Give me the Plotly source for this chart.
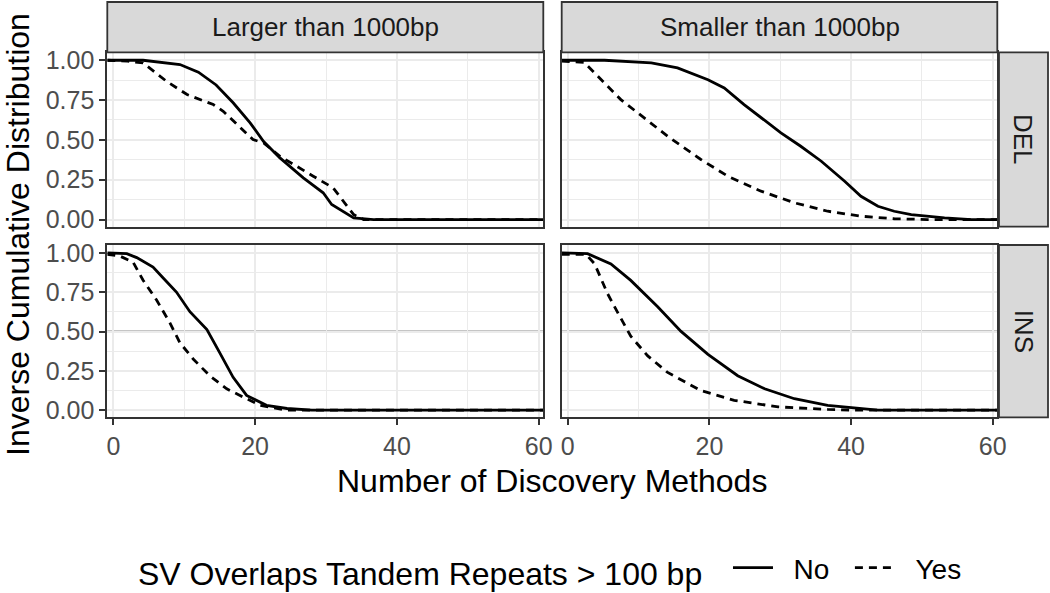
import plotly.graph_objects as go

# ---------------- data ----------------
col_labels = ["Larger than 1000bp", "Smaller than 1000bp"]
row_labels = ["DEL", "INS"]
series_names = ["No", "Yes"]
legend_title = "SV Overlaps Tandem Repeats > 100 bp"
x_title = "Number of Discovery Methods"
y_title = "Inverse Cumulative Distribution"
x_ticks = [0, 20, 40, 60]
y_ticks = [0.0, 0.25, 0.5, 0.75, 1.0]
ref_level = 0.5

del_large_x_no = [-0.85, 4.2, 9.4, 12.0, 14.5, 16.9, 19.3, 21.2, 23.5, 26.8, 29.6, 30.8, 33.9, 36.7, 60.65]
del_large_y_no = [1.0, 1.0, 0.973, 0.925, 0.845, 0.733, 0.607, 0.49, 0.387, 0.262, 0.168, 0.094, 0.01, 0.0, 0.0]
del_large_x_yes = [-0.85, 2.0, 4.2, 7.5, 10.4, 14.1, 15.5, 17.9, 19.7, 21.2, 23.5, 28.2, 31.0, 33.9, 35.3, 60.65]
del_large_y_yes = [1.0, 0.995, 0.983, 0.868, 0.785, 0.722, 0.68, 0.576, 0.502, 0.481, 0.397, 0.272, 0.199, 0.031, 0.0, 0.0]

del_small_x_no = [-0.85, 5.2, 11.8, 15.5, 19.8, 22.1, 24.9, 27.3, 30.1, 32.9, 35.8, 39.1, 41.4, 43.8, 46.1, 48.5, 53.2, 57.0, 60.65]
del_small_y_no = [1.0, 1.0, 0.983, 0.952, 0.878, 0.826, 0.722, 0.638, 0.544, 0.46, 0.366, 0.24, 0.146, 0.083, 0.052, 0.031, 0.011, 0.0, 0.0]
del_small_x_yes = [-0.85, 2.3, 3.8, 7.5, 10.8, 14.1, 18.8, 22.6, 27.3, 32.0, 36.7, 41.4, 46.1, 50.8, 60.65]
del_small_y_yes = [0.995, 0.987, 0.92, 0.753, 0.638, 0.523, 0.377, 0.272, 0.178, 0.105, 0.052, 0.021, 0.005, 0.0, 0.0]

ins_large_x_no = [-0.85, 1.9, 3.3, 5.6, 7.1, 8.9, 10.8, 13.2, 15.0, 16.9, 18.8, 21.6, 24.5, 28.0, 60.65]
ins_large_y_no = [1.0, 0.995, 0.97, 0.91, 0.837, 0.751, 0.626, 0.512, 0.366, 0.209, 0.094, 0.031, 0.011, 0.0, 0.0]
ins_large_x_yes = [-0.85, 0.9, 2.8, 4.2, 6.1, 8.0, 9.4, 11.3, 13.6, 16.0, 18.3, 20.7, 24.5, 60.65]
ins_large_y_yes = [0.99, 0.98, 0.94, 0.826, 0.70, 0.554, 0.428, 0.324, 0.219, 0.136, 0.084, 0.031, 0.0, 0.0]

ins_small_x_no = [-0.85, 2.8, 6.1, 8.9, 12.7, 16.0, 19.8, 24.0, 27.8, 32.0, 36.7, 40.0, 43.8, 60.65]
ins_small_y_no = [1.0, 0.995, 0.93, 0.825, 0.658, 0.501, 0.355, 0.219, 0.136, 0.073, 0.031, 0.017, 0.0, 0.0]
ins_small_x_yes = [-0.85, 2.6, 3.8, 5.6, 7.1, 8.9, 11.3, 14.1, 18.8, 23.5, 29.7, 36.7, 41.0, 60.65]
ins_small_y_yes = [0.99, 0.99, 0.93, 0.743, 0.617, 0.47, 0.345, 0.24, 0.125, 0.063, 0.021, 0.005, 0.0, 0.0]

panels = {
    (0, 0): [(del_large_x_no, del_large_y_no), (del_large_x_yes, del_large_y_yes)],
    (0, 1): [(del_small_x_no, del_small_y_no), (del_small_x_yes, del_small_y_yes)],
    (1, 0): [(ins_large_x_no, ins_large_y_no), (ins_large_x_yes, ins_large_y_yes)],
    (1, 1): [(ins_small_x_no, ins_small_y_no), (ins_small_x_yes, ins_small_y_yes)],
}

# ---------------- layout geometry ----------------
W, H = 1050, 593
FONT = "Liberation Sans, Arial, sans-serif"
col_px = [(107.3, 543.3), (561.7, 997.3)]
row_px = [(52.3, 226.7), (245.0, 417.3)]
x_dom = [[a / W, b / W] for a, b in col_px]
y_dom = [[1 - b / H, 1 - a / H] for a, b in row_px]
x_range = [-0.85, 60.65]
y_range = [-0.045, 1.05]

dash_styles = ["solid", "8px,6px"]
NB = "\u00a0"

fig = go.Figure()
layout = dict(
    width=W, height=H,
    margin=dict(l=0, r=0, t=0, b=0, autoexpand=False),
    paper_bgcolor="white", plot_bgcolor="white",
    font=dict(family=FONT, color="#000000"),
    showlegend=True,
)

shapes = []
annotations = []
idx = 0
for r in range(2):
    for c in range(2):
        idx += 1
        xa = "xaxis" if idx == 1 else f"xaxis{idx}"
        ya = "yaxis" if idx == 1 else f"yaxis{idx}"
        xr = "x" if idx == 1 else f"x{idx}"
        yr = "y" if idx == 1 else f"y{idx}"
        layout[xa] = dict(
            domain=x_dom[c], anchor=yr, range=x_range,
            tickmode="array", tickvals=x_ticks,
            showticklabels=(r == 1), ticks="outside" if r == 1 else "",
            ticklen=6, tickwidth=2, tickcolor="#333333",
            tickfont=dict(size=25, color="#4D4D4D", family=FONT),
            showgrid=True, gridcolor="#EBEBEB", gridwidth=2,
            minor=dict(dtick=10, tick0=0, showgrid=True, gridcolor="#EBEBEB", gridwidth=1, ticks=""),
            showline=True, linecolor="#333333", linewidth=1.8, mirror=True,
            zeroline=False, fixedrange=True, automargin=False,
        )
        layout[ya] = dict(
            domain=y_dom[r], anchor=xr, range=y_range,
            tickmode="array", tickvals=y_ticks, tickformat=".2f",
            showticklabels=(c == 0), ticks="outside" if c == 0 else "",
            ticklen=6, tickwidth=2, tickcolor="#333333",
            tickfont=dict(size=25, color="#4D4D4D", family=FONT),
            showgrid=True, gridcolor="#EBEBEB", gridwidth=2,
            minor=dict(dtick=0.125, tick0=0, showgrid=True, gridcolor="#EBEBEB", gridwidth=1, ticks=""),
            showline=True, linecolor="#333333", linewidth=1.8, mirror=True,
            zeroline=False, fixedrange=True, automargin=False,
        )
        shapes.append(dict(type="line", xref=f"{xr} domain", yref=yr, x0=0, x1=1,
                           y0=ref_level, y1=ref_level, line=dict(color="#8C8C8C", width=2), layer="below"))
        for k, (xs, ys) in enumerate(panels[(r, c)]):
            fig.add_trace(go.Scatter(
                x=xs, y=ys, mode="lines", xaxis=xr, yaxis=yr,
                name=NB * 2 + series_names[k] + NB * 2, legendgroup=series_names[k],
                showlegend=(idx == 1),
                line=dict(color="black", width=2.8, dash=dash_styles[k]),
                hoverinfo="skip",
            ))

# strips
for c in range(2):
    x0, x1 = col_px[c]
    shapes.append(dict(type="rect", xref="paper", yref="paper",
                       x0=x0 / W, x1=x1 / W, y0=1 - 52.3 / H, y1=1 - 2 / H,
                       fillcolor="#D9D9D9", line=dict(color="#333333", width=1.8), layer="above"))
    annotations.append(dict(text=col_labels[c], xref="paper", yref="paper",
                            x=(x0 + x1) / 2 / W, y=1 - 27 / H, showarrow=False,
                            xanchor="center", yanchor="middle",
                            font=dict(size=26, color="#1A1A1A", family=FONT)))
for r in range(2):
    y0, y1 = row_px[r]
    shapes.append(dict(type="rect", xref="paper", yref="paper",
                       x0=999 / W, x1=1048 / W, y0=1 - y1 / H, y1=1 - y0 / H,
                       fillcolor="#D9D9D9", line=dict(color="#333333", width=1.8), layer="above"))
    annotations.append(dict(text=row_labels[r], xref="paper", yref="paper",
                            x=1023.5 / W, y=1 - (y0 + y1) / 2 / H, showarrow=False,
                            textangle=90, xanchor="center", yanchor="middle",
                            font=dict(size=26, color="#1A1A1A", family=FONT)))

# axis titles
annotations.append(dict(text=x_title, xref="paper", yref="paper",
                        x=552.3 / W, y=1 - 481 / H, showarrow=False,
                        xanchor="center", yanchor="middle",
                        font=dict(size=32, color="#000000", family=FONT)))
annotations.append(dict(text=y_title, xref="paper", yref="paper",
                        x=18 / W, y=1 - 235 / H, showarrow=False, textangle=-90,
                        xanchor="center", yanchor="middle",
                        font=dict(size=32, color="#000000", family=FONT)))

layout["shapes"] = shapes
layout["annotations"] = annotations
layout["legend"] = dict(
    orientation="h", x=136 / W, xanchor="left", y=1 - 569 / H, yanchor="middle",
    title=dict(text=legend_title + NB * 2, side="left", font=dict(size=32, family=FONT, color="#000000")),
    font=dict(size=28, family=FONT, color="#000000"),
    bgcolor="rgba(0,0,0,0)", itemwidth=40, tracegroupgap=0,
)
fig.update_layout(**layout)
fig.write_html(
    "out.html",
    config={"displayModeBar": False},
    post_script="document.body.style.margin='0';document.body.style.padding='0';document.body.style.overflow='hidden';",
)
